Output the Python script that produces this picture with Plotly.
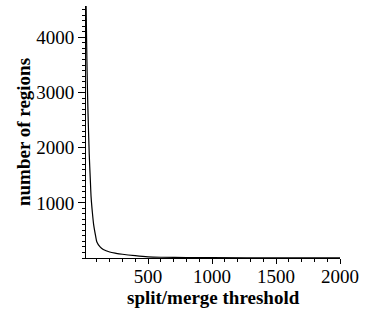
import plotly.graph_objects as go

threshold = [16, 20, 25, 30, 40, 50, 55, 65, 75, 90, 100, 125, 150, 200, 250, 300, 400, 500, 600, 800, 1000, 1500, 2000]
regions = [4570, 3900, 3200, 2700, 1900, 1350, 1100, 820, 600, 400, 290, 200, 155, 108, 85, 68, 42, 22, 14, 9, 6, 3, 2]

x_ticks = [500, 1000, 1500, 2000]
y_ticks = [1000, 2000, 3000, 4000]

fig = go.Figure()
fig.add_trace(go.Scatter(x=threshold, y=regions, mode="lines",
                         line=dict(color="black", width=1.2, shape="spline", smoothing=0.8),
                         showlegend=False, hoverinfo="skip"))

font = dict(family="Liberation Serif, Times New Roman, serif", size=19, color="black")

fig.update_layout(
    width=370, height=311,
    margin=dict(l=86, r=30, t=6, b=53),
    paper_bgcolor="white", plot_bgcolor="white",
    font=font,
    xaxis=dict(range=[15, 2000], tickvals=x_ticks, ticktext=[str(v) for v in x_ticks],
               automargin=False, ticklabelstandoff=-4,
               showgrid=False, zeroline=False, showline=True, linecolor="black", linewidth=1,
               ticks="outside", ticklen=5, tickcolor="black",
               minor=dict(dtick=100, tick0=0, ticks="outside", ticklen=3, tickcolor="black")),
    yaxis=dict(range=[0, 4570], tickvals=y_ticks, ticktext=[str(v) for v in y_ticks],
               automargin=False,
               showgrid=False, zeroline=False, showline=True, linecolor="black", linewidth=1,
               ticks="outside", ticklen=7, tickcolor="black",
               minor=dict(dtick=100, tick0=0, ticks="outside", ticklen=3, tickcolor="black"),
               title=dict(text="<b>number of regions</b>", standoff=0, font=font)),
    annotations=[dict(text="<b>split/merge threshold</b>", xref="paper", yref="paper",
                      x=0.5, y=-0.155, xanchor="center", yanchor="middle",
                      showarrow=False, font=font)],
)

fig.write_html("out.html", config={"displayModeBar": False},
               post_script="document.body.style.margin='0';document.body.style.overflow='hidden';")
